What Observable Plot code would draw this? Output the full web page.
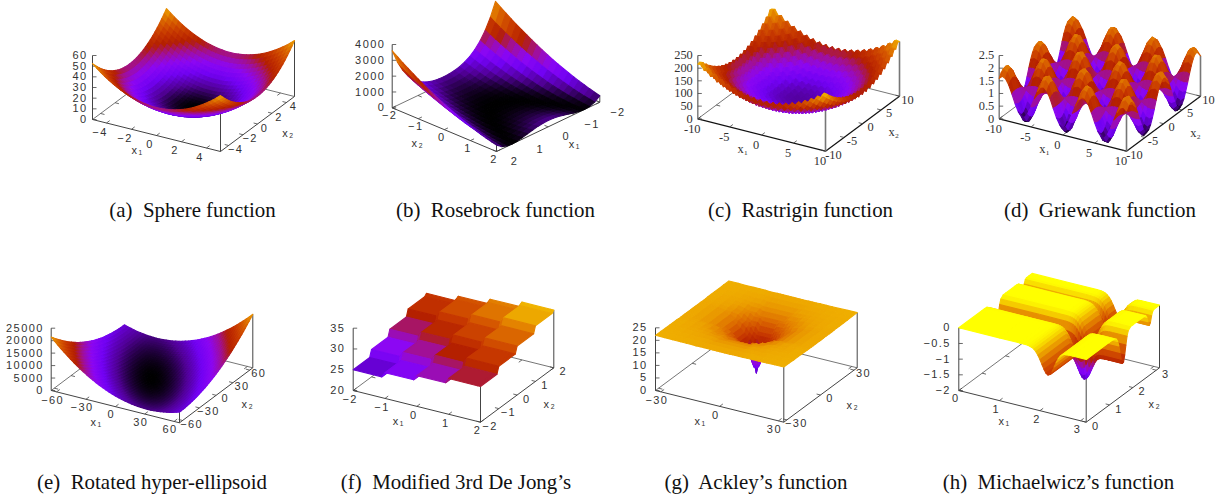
<!DOCTYPE html>
<html><head><meta charset="utf-8">
<script src="https://cdn.jsdelivr.net/npm/d3@7"></script>
<script src="https://cdn.jsdelivr.net/npm/@observablehq/plot@0.6"></script>
<style>
body{margin:0;background:#fff}
#page{position:relative;width:1218px;height:499px;overflow:hidden}
#page svg{position:absolute}
.cap{position:absolute;transform:translateX(-50%);font:20.9px/22px "Liberation Serif",serif;white-space:pre;color:#111}
</style></head><body><div id="page"></div>
<script>
// gnuplot pm3d palette, read as colour stops
const palette=["#000000","#510096","#7202f3","#8c07f3","#a11096","#b42000","#c63700","#d55700","#e48300","#f2ba00","#ffff00"];

// (a) height contribution of one axis
const sphereProfile=[26.21,23.04,20.07,17.31,14.75,12.39,10.24,8.29,6.55,5.02,3.69,2.56,1.64,.92,.41,.1,0,.1,.41,.92,1.64,2.56,3.69,5.02,6.55,8.29,10.24,12.39,14.75,17.31,20.07,23.04,26.21];
// (b) rows by |x1| = 0, .2, ... 2 ; columns x2 = -2 ... 2
const rosenbrockRows=[
[400,324,256,196,144,100,64,36,16,4,0,4,16,36,64,100,144,196,256,324,400],
[416,339,269,207,154,108,71,41,19,6,0,3,13,31,58,92,135,185,243,310,384],
[467,384,310,243,185,135,92,58,31,13,3,0,6,19,41,71,108,154,207,269,339],
[557,467,384,310,243,185,135,92,58,31,13,3,0,6,19,41,71,108,154,207,269],
[697,595,502,416,339,269,207,154,108,71,41,19,6,0,3,13,31,58,92,135,185],
[900,784,676,576,484,400,324,256,196,144,100,64,36,16,4,0,4,16,36,64,100],
[1183,1050,924,807,697,595,502,416,339,269,207,154,108,71,41,19,6,0,3,13,31],
[1568,1414,1267,1129,999,876,762,655,557,467,384,310,243,185,135,92,58,31,13,3,0],
[2079,1901,1731,1568,1414,1267,1129,999,876,762,655,557,467,384,310,243,185,135,92,58,31],
[2746,2540,2343,2153,1971,1798,1632,1475,1325,1183,1050,924,807,697,595,502,416,339,269,207,154],
[3600,3364,3136,2916,2704,2500,2304,2116,1936,1764,1600,1444,1296,1156,1024,900,784,676,576,484,400]];
// (b) small offset by x1 = 2 ... -2
const rosenbrockDrift=[1,.64,.36,.16,.04,0,.04,.16,.36,.64,1,1.44,1.96,2.56,3.24,4,4.84,5.76,6.76,7.84,9];
// (c) height contribution of one axis
const rastriginProfile=[108,110,89,92,72,76,57,62,44,50,33,40,24,32,17,26,12,22,9,20,8,20,9,22,12,26,17,32,24,40,33,50,44,62,57,76,72,92,89,110,108];
// (d) wave along each axis
const griewankX=[-.84,-1,-.91,-.6,-.15,.35,.75,.98,.96,.71,.28,-.21,-.65,-.94,-.99,-.8,-.42,.07,.54,.88,1,.88,.54,.07,-.42,-.8,-.99,-.94,-.65,-.21,.28,.71,.96,.98,.75,.35,-.15,-.6,-.91,-1,-.84];
const griewankY=[.71,.9,1,.97,.81,.56,.24,-.12,-.45,-.73,-.92,-1,-.95,-.79,-.52,-.2,.16,.49,.76,.94,1,.94,.76,.49,.16,-.2,-.52,-.79,-.95,-1,-.92,-.73,-.45,-.12,.24,.56,.81,.97,1,.9,.71];
// (e) height by grid distance 0 ... 40
const ellipsoidSteps=[0,11,43,97,172,268,387,526,687,870,1074,1299,1546,1815,2105,2416,2749,3103,3479,3876,4295,4735,5196,5679,6184,6710,7258,7827,8418,9030,9664,10319,10996,11694,12414,13156,13919,14704,15510,16338,17180];
// (f) staircase
const deJongAxis=[-2,-1.1,-1,-.1,0,.9,1,1.9,2];
const deJongX1=[0,0,1.2,1.2,2.4,2.4,3.6,3.6,3.6];
const deJongX2=[25,25,26.6,26.6,28.2,28.2,29.8,29.8,30.3];
// (g) radial section
const ackleyAxis=[-32.768,-28,-24,-20,-17,-14,-12,-10,-8,-6.5,-5,-3.5,-2.5,-1.5,-.75,0,.75,1.5,2.5,3.5,5,6.5,8,10,12,14,17,20,24,28,32.768];
const ackleyRadii=[0,.5,1,1.5,2,3,4,5,6,7,8,10,12,14,17,20,24,28,32,38,46];
const ackleyDepth=[2.5,3.5,5,6.3,7.5,9.5,11,12.3,13.5,14.6,15.5,17.1,18.3,19.2,20.2,20.8,21.3,21.6,21.8,21.9,22];
// (h) wells along each axis
const michAxis1=[0,1,1.5,1.6,1.7,1.75,1.8,1.85,1.9,1.95,2,2.05,2.1,2.15,2.2,2.25,2.3,2.35,2.4,2.45,2.5,2.55,2.6,2.7,2.8,3.14];
const michWell1=[0,0,0,-.002,-.01,-.023,-.046,-.086,-.15,-.248,-.37,-.513,-.651,-.757,-.8,-.766,-.656,-.494,-.338,-.198,-.099,-.041,-.014,-.001,0,0];
const michAxis2=[0,1,1.1,1.2,1.3,1.35,1.4,1.45,1.5,1.55,1.6,1.65,1.7,1.75,1.8,1.9,2,2.4,2.5,2.55,2.6,2.65,2.7,2.75,2.8,2.85,2.9,3,3.14];
const michWell2=[0,0,-.001,-.009,-.075,-.173,-.338,-.574,-.821,-.982,-.966,-.766,-.477,-.225,-.078,-.003,0,0,-.002,-.017,-.093,-.262,-.408,-.346,-.154,-.033,-.003,0,0];

const captions=["(a)  Sphere function","(b)  Rosebrock function","(c)  Rastrigin function","(d)  Griewank function","(e)  Rotated hyper-ellipsoid","(f)  Modified 3rd De Jong’s","(g)  Ackley’s function","(h)  Michaelwicz’s function"];

const table=(n,m,f)=>d3.range(n).map(i=>d3.range(m).map(j=>f(i,j)));
const even=(lo,hi,n)=>d3.range(n).map(k=>lo+(hi-lo)*k/(n-1));
const sans={font:"Liberation Sans",size:11,spacing:"1.4px",minus:"−"};
const serif={font:"Liberation Serif",size:12.4,spacing:"0px",minus:"-"};

const panels=[
{box:[40,0,290,190],cap:[192.5,199],left:[92,119],front:[220,151],right:[294,96],zPx:64,zDomain:[0,60],zTicks:[0,10,20,30,40,50,60],
 uVals:even(-5.12,5.12,33),vVals:even(-5.12,5.12,33),uTicks:[-4,-2,0,2,4],vTicks:[-4,-2,0,2,4],
 z:table(33,33,(i,j)=>sphereProfile[i]+sphereProfile[j]),uOff:[-6.5,9],vOff:[7,4],zOff:-5,uName:"x₁",vName:"x₂",uPos:[137,150],vPos:[288,133],text:sans},
{box:[335,0,295,190],cap:[495.5,199],left:[391.7,107.3],front:[496,151],right:[599.3,101.7],zPx:63.3,zDomain:[0,4000],zTicks:[0,1000,2000,3000,4000],
 uVals:even(-2,2,21),vVals:even(2,-2,21),uTicks:[-2,-1,0,1,2],vTicks:[2,1,0,-1,-2],
 z:table(21,21,(i,j)=>rosenbrockRows[Math.abs(10-j)][i]+rosenbrockDrift[j]),uOff:[-2.5,8],vOff:[18,10],zOff:-7,uName:"x₂",vName:"x₁",uPos:[417.3,143],vPos:[574.3,144],text:sans},
{box:[640,0,290,190],cap:[800.5,199],left:[697.3,118.3],front:[825,150.7],right:[899,95.7],zPx:63.3,zDomain:[0,250],zTicks:[0,50,100,150,200,250],heavy:true,
 uVals:even(-10,10,41),vVals:even(-10,10,41),uTicks:[-10,-5,0,5,10],vTicks:[-10,-5,0,5,10],
 z:table(41,41,(i,j)=>rastriginProfile[i]+rastriginProfile[j]),uOff:[-5.5,10],vOff:[8,3.4],zOff:-5,uName:"x₁",vName:"x₂",uPos:[742.3,149],vPos:[893.3,131.7],text:serif},
{box:[935,0,283,190],cap:[1100,199],left:[998.7,118.3],front:[1126,150.7],right:[1200,95.7],zPx:63.3,zDomain:[0,2.5],zTicks:[0,.5,1,1.5,2,2.5],heavy:true,
 uVals:even(-10,10,41),vVals:even(-10,10,41),uTicks:[-10,-5,0,5,10],vTicks:[-10,-5,0,5,10],
 z:table(41,41,(i,j)=>1-griewankX[i]*griewankY[j]),uOff:[-5.5,10],vOff:[8,3.4],zOff:-5,uName:"x₁",vName:"x₂",uPos:[1044,149],vPos:[1195,132.3],text:serif},
{box:[0,265,300,180],cap:[152,471],left:[50.7,390],front:[179,422.3],right:[252.3,367.3],zPx:62.3,zDomain:[0,25000],zTicks:[0,5000,10000,15000,20000,25000],
 uVals:even(-65.536,65.536,41),vVals:even(-65.536,65.536,41),uTicks:[-60,-30,0,30,60],vTicks:[-60,-30,0,30,60],
 z:table(41,41,(i,j)=>ellipsoidSteps[Math.abs(i-20)]+ellipsoidSteps[Math.abs(i+j-40)]),uOff:[-4,8.3],vOff:[9,3.5],zOff:-7.5,uName:"x₁",vName:"x₂",uPos:[96,421.7],vPos:[247.3,404],text:sans},
{box:[310,265,280,180],cap:[456,471],left:[352.7,390],front:[480,421.7],right:[553.3,367.3],zPx:62.3,zDomain:[20,35],colorDomain:[23,35],zTicks:[20,25,30,35],
 uVals:deJongAxis,vVals:deJongAxis,uTicks:[-2,-1,0,1,2],vTicks:[-2,-1,0,1,2],
 z:table(9,9,(i,j)=>deJongX1[i]+deJongX2[j]),uOff:[-3,8.7],vOff:[9.5,4],zOff:-8,uName:"x₁",vName:"x₂",uPos:[398.3,420.7],vPos:[549.3,404],text:sans},
{box:[610,265,270,180],cap:[756,471],left:[655,390],front:[783.3,421.7],right:[856.7,367.3],zPx:62.7,zDomain:[0,25],zTicks:[0,5,10,15,20,25],
 uVals:ackleyAxis,vVals:ackleyAxis,uTicks:[-30,0,30],vTicks:[-30,0,30],
 z:table(31,31,(i,j)=>ackleyDepth[d3.bisectCenter(ackleyRadii,Math.hypot(ackleyAxis[i],ackleyAxis[j]))]),uOff:[-4,8.7],vOff:[9.5,3.8],zOff:-8,uName:"x₁",vName:"x₂",uPos:[700,420.7],vPos:[852.3,405],text:sans},
{box:[900,265,300,180],cap:[1058.5,471],left:[958.3,390],front:[1085.7,421.7],right:[1159,367.3],zPx:62.7,zDomain:[-2,0],zTicks:[-2,-1.5,-1,-.5,0],
 uVals:michAxis1,vVals:michAxis2,uTicks:[0,1,2,3],vTicks:[0,1,2,3],
 z:table(michAxis1.length,michAxis2.length,(i,j)=>michWell1[i]+michWell2[j]),uOff:[-3,8.4],vOff:[9.5,4.2],zOff:-8,uName:"x₁",vName:"x₂",uPos:[1004,420.7],vPos:[1154.3,404.3],text:sans}
];

const page=document.getElementById("page");
function draw(p,idx){
  const [L,T,W,H]=p.box;
  const [lx,ly]=p.left,[fx,fy]=p.front,[rx,ry]=p.right;
  const uf=d3.scaleLinear([p.uVals[0],p.uVals[p.uVals.length-1]],[0,1]);
  const vf=d3.scaleLinear([p.vVals[0],p.vVals[p.vVals.length-1]],[0,1]);
  const zf=d3.scaleLinear(p.zDomain,[0,p.zPx]);
  const z0=p.zDomain[0], z1=p.zDomain[1];
  const at=(u,v,z=z0)=>({x:lx+u*(fx-lx)+v*(rx-fx),y:ly+u*(fy-ly)+v*(ry-fy)-zf(z)});
  const n=p.uVals.length,m=p.vVals.length;

  // surface cells, far to near
  const verts=[];let id=0;
  for(let i=0;i<n-1;i++)for(let j=m-2;j>=0;j--){
    const c=[[i,j],[i+1,j],[i+1,j+1],[i,j+1]];
    const v=d3.mean(c,([a,b])=>p.z[a][b]);
    for(const [a,b] of c){const q=at(uf(p.uVals[a]),vf(p.vVals[b]),p.z[a][b]);verts.push({id,v,x:q.x,y:q.y});}
    id++;
  }
  const seg=(a,b)=>({x1:a.x,y1:a.y,x2:b.x,y2:b.y});
  const back=at(0,1);
  const edgesBack=[seg(at(0,0),back),seg(back,at(1,1))];
  const edgesFront=[seg(at(0,0),at(1,0)),seg(at(1,0),at(1,1))];
  const verticals=[seg(at(1,0),at(1,0,p.z[n-1][0])),seg(at(1,1),at(1,1,p.z[n-1][m-1]))];
  const zAxis=[seg(at(0,0),at(0,0,z1))];
  const ticks=[];
  const tl=4;
  const uLen=Math.hypot(fx-lx,fy-ly),vLen=Math.hypot(rx-fx,ry-fy);
  for(const t of p.uTicks){const u=uf(t);ticks.push(seg(at(u,0),at(u,tl/vLen)),seg(at(u,1),at(u,1-tl/vLen)));}
  for(const t of p.vTicks){const v=vf(t);ticks.push(seg(at(1,v),at(1-tl/uLen,v)),seg(at(0,v),at(tl/uLen,v)));}
  for(const t of p.zTicks){const a=at(0,0,t);ticks.push(seg(a,{x:a.x+4,y:a.y}));}

  const fmt=t=>String(t).replace("-",p.text.minus);
  const uLabels=p.uTicks.map(t=>{const a=at(uf(t),0);return {x:a.x+p.uOff[0],y:a.y+p.uOff[1],t:fmt(t)};});
  const vLabels=p.vTicks.map(t=>{const a=at(1,vf(t));return {x:a.x+p.vOff[0],y:a.y+p.vOff[1],t:fmt(t)};});
  const zLabels=p.zTicks.map(t=>{const a=at(0,0,t);return {x:a.x+p.zOff,y:a.y,t:fmt(t)};});
  const names=[{x:p.uPos[0],y:p.uPos[1],t:p.uName},{x:p.vPos[0],y:p.vPos[1],t:p.vName}];
  const tx={x:"x",y:"y",text:"t",fontFamily:p.text.font,fontSize:p.text.size,fill:"#333"};

  const plot=Plot.plot({
    width:W,height:H,margin:0,
    x:{domain:[L,L+W],range:[0,W],axis:null},
    y:{domain:[T,T+H],range:[0,H],axis:null},
    color:{type:"linear",domain:p.colorDomain||p.zDomain,range:palette,clamp:true},
    style:{background:"transparent",left:L+"px",top:T+"px",letterSpacing:p.text.spacing,overflow:"visible"},
    marks:[
      Plot.link(edgesBack,{x1:"x1",y1:"y1",x2:"x2",y2:"y2",stroke:"#666",strokeWidth:.9}),
      Plot.link(edgesFront,{x1:"x1",y1:"y1",x2:"x2",y2:"y2",stroke:p.heavy?"#111":"#444",strokeWidth:p.heavy?1.2:1}),
      Plot.link(verticals,{x1:"x1",y1:"y1",x2:"x2",y2:"y2",stroke:p.heavy?"#777":"#444",strokeWidth:p.heavy?1.6:1}),
      Plot.link(zAxis,{x1:"x1",y1:"y1",x2:"x2",y2:"y2",stroke:p.heavy?"#777":"#444",strokeWidth:p.heavy?1.4:1}),
      Plot.link(ticks,{x1:"x1",y1:"y1",x2:"x2",y2:"y2",stroke:"#444",strokeWidth:.8}),
      Plot.line(verts,{x:"x",y:"y",z:"id",fill:"v",stroke:"v",strokeWidth:1.1,curve:"linear-closed"}),
      Plot.text(uLabels,tx),
      Plot.text(vLabels,tx),
      Plot.text(zLabels,{...tx,textAnchor:"end"}),
      Plot.text(names,tx)
    ]
  });
  page.appendChild(plot);
  const c=document.createElement("div");
  c.className="cap";c.textContent=captions[idx];
  c.style.left=p.cap[0]+"px";c.style.top=p.cap[1]+"px";
  page.appendChild(c);
}
panels.forEach(draw);
</script></body></html>
